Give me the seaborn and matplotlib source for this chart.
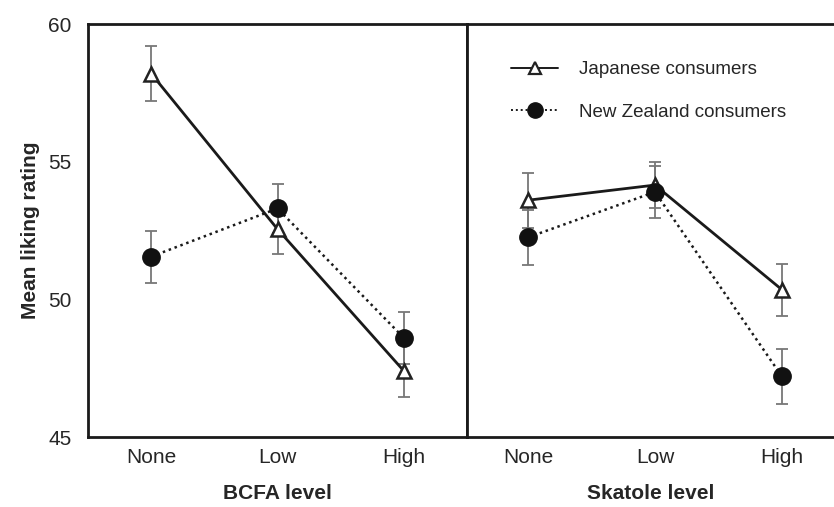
import matplotlib
matplotlib.use("Agg")
import matplotlib.pyplot as plt
import seaborn as sns
import pandas as pd
import numpy as np
from matplotlib.ticker import MultipleLocator
from matplotlib.lines import Line2D

sns.set_style("white")
plt.rcParams['font.family'] = ['Liberation Sans', 'DejaVu Sans']

levels = ["None", "Low", "High"]
groups = ["Japanese consumers", "New Zealand consumers"]

bcfa_jp = [58.2, 52.55, 47.4]
bcfa_jp_se = [1.0, 0.9, 0.95]
bcfa_nz = [51.55, 53.3, 48.6]
bcfa_nz_se = [0.95, 0.9, 0.95]

skat_jp = [53.6, 54.15, 50.35]
skat_jp_se = [1.0, 0.85, 0.95]
skat_nz = [52.25, 53.9, 47.2]
skat_nz_se = [1.0, 0.95, 1.0]

panels = [
    ("BCFA level", bcfa_jp, bcfa_jp_se, bcfa_nz, bcfa_nz_se),
    ("Skatole level", skat_jp, skat_jp_se, skat_nz, skat_nz_se),
]

fig = plt.figure(figsize=(8.34, 5.07), dpi=100)
ax1 = fig.add_axes([88/834, 1-437/507, (467-88)/834, (437-24)/507])
ax2 = fig.add_axes([467/834, 1-437/507, (834-467)/834, (437-24)/507], sharey=ax1)
axes = [ax1, ax2]

dotted = (0, (1, 1.5))
styles = {
    groups[0]: dict(ls="-", marker="^", mfc="white", mec="#222222", ms=10, mew=1.8, lw=2.0),
    groups[1]: dict(ls=dotted, marker="o", mfc="#111111", mec="#111111", ms=12.5, mew=1, lw=1.8),
}

for i, (ax, (xlabel, jp, jpse, nz, nzse)) in enumerate(zip(axes, panels)):
    pos = np.arange(len(levels))
    df = pd.DataFrame({
        "x": np.concatenate([pos, pos]),
        "y": jp + nz,
        "se": jpse + nzse,
        "group": [groups[0]] * 3 + [groups[1]] * 3,
    })
    for g in groups:
        sub = df[df.group == g]
        ax.errorbar(sub.x, sub.y, yerr=sub.se, fmt="none", ecolor="#777777",
                    elinewidth=1.3, capsize=4.5, capthick=1.3, zorder=2)
        st = styles[g]
        sns.lineplot(data=sub, x="x", y="y", ax=ax, color="#1a1a1a",
                     lw=st["lw"], marker=st["marker"], markersize=st["ms"],
                     markerfacecolor=st["mfc"], markeredgecolor=st["mec"],
                     markeredgewidth=st["mew"], zorder=3, legend=False)
        ax.lines[-1].set_linestyle(st["ls"])
    ax.set_xticks(pos)
    ax.set_xticklabels(levels, fontsize=15)
    ax.set_xlabel(xlabel, fontsize=15, fontweight="bold", labelpad=12)
    ax.set_ylim(45, 60)
    ax.yaxis.set_major_locator(MultipleLocator(5))
    ax.yaxis.set_minor_locator(MultipleLocator(1))
    ax.tick_params(axis="both", which="both", direction="in", color="#222222")
    ax.tick_params(axis="x", length=5, width=1.2, pad=8)
    ax.tick_params(axis="y", which="major", length=5, width=1.2)
    ax.tick_params(axis="y", which="minor", length=3, width=1.0)
    for s in ax.spines.values():
        s.set_color("#1a1a1a")
        s.set_linewidth(2)

ax1.set_xlim(-0.5, 2.5)
ax2.set_xlim(-0.48, 2.41)
ax2.spines["right"].set_visible(False)
ax1.set_yticks([45, 50, 55, 60])
ax1.set_yticklabels(["45", "50", "55", "60"], fontsize=15)
ax1.tick_params(axis="y", pad=12)
ax2.tick_params(axis="y", which="both", labelleft=False)
ax1.set_ylabel("Mean liking rating", fontsize=15, fontweight="bold", labelpad=6)
ax2.set_ylabel("")

handles = [
    Line2D([], [], color="#1a1a1a", ls="-", lw=1.4, marker="^", mfc="white",
           mec="#222222", ms=9, mew=1.6),
    Line2D([], [], color="#1a1a1a", ls=dotted, lw=1.4, marker="o",
           mfc="#111111", mec="#111111", ms=11),
]
ax2.legend(handles, groups, loc="upper left", bbox_to_anchor=(0.1, 0.928),
           frameon=False, fontsize=13.5, handlelength=2.5, labelspacing=1.35,
           handletextpad=1.1, borderaxespad=0)

fig.savefig("out.png", dpi=100)
